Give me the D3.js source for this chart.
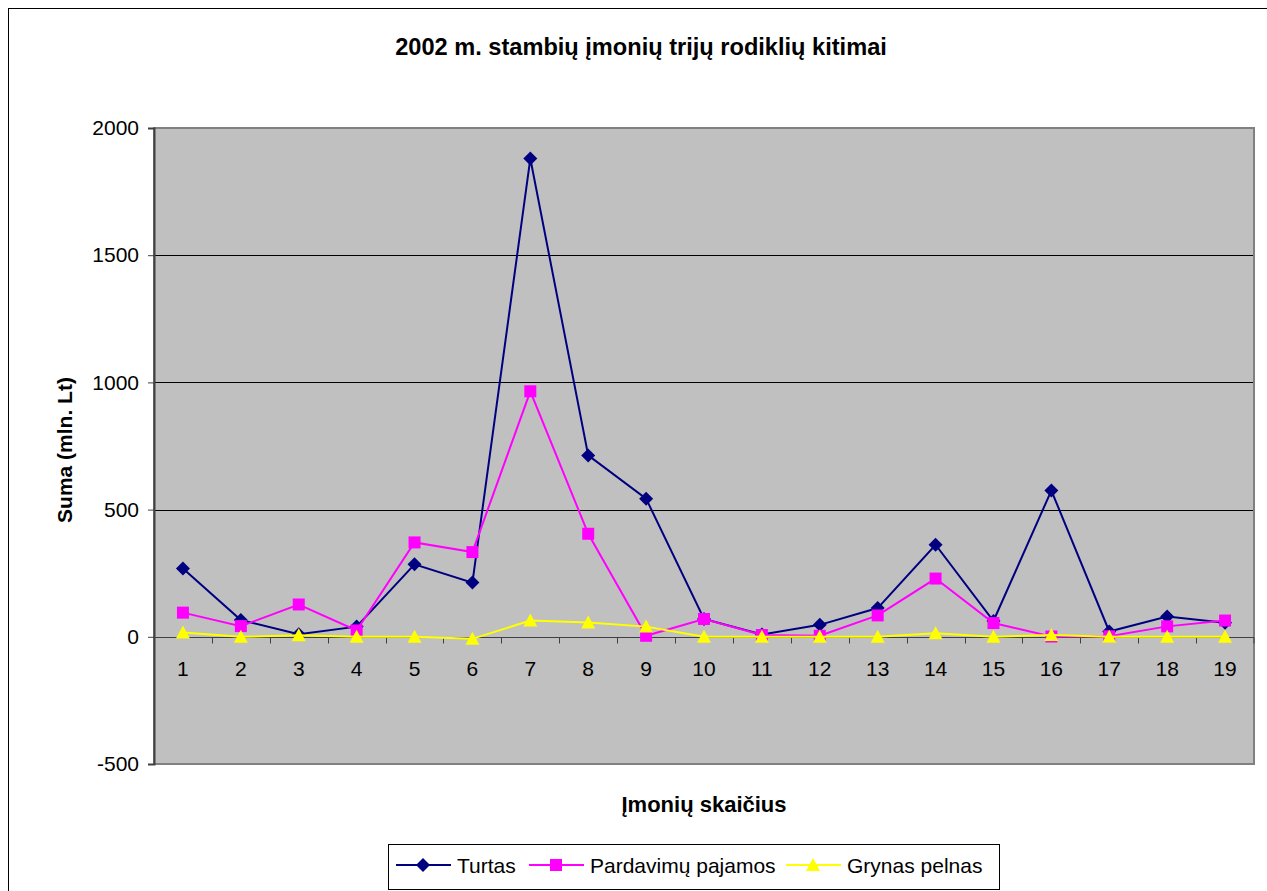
<!DOCTYPE html>
<html>
<head>
<meta charset="utf-8">
<script src="https://cdn.jsdelivr.net/npm/d3@7"></script>
<style>
  html, body { margin: 0; padding: 0; background: #fff; }
  svg { display: block; font-family: "Liberation Sans", Arial, sans-serif; }
</style>
</head>
<body>
<svg id="chart" width="1267" height="891"></svg>
<script>
// Company numbers along the x axis
const categories = d3.range(1, 20).map(String);

// Values in millions of litas, one per company
const turtas   = [268, 66, 10, 40, 285, 213, 1880, 713, 543, 70, 9, 47, 113, 362, 62, 575, 21, 80, 55];
const pajamos  = [95, 42, 127, 25, 371, 333, 965, 405, 4, 70, 7, 4, 84, 229, 54, 1, 2, 41, 64];
const pelnas   = [17, 0, 6, 0, 0, -8, 64, 56, 40, 0, 0, 0, 0, 14, 0, 7, 0, 0, 0];

const yTicks = [-500, 0, 500, 1000, 1500, 2000];

const seriesNames = ["Turtas", "Pardavimų pajamos", "Grynas pelnas"];
const seriesColors = ["#000080", "#FF00FF", "#FFFF00"];
const seriesMarkers = ["diamond", "square", "triangle"];

const series = [turtas, pajamos, pelnas].map((values, i) => ({
  name: seriesNames[i], color: seriesColors[i], marker: seriesMarkers[i], values
}));

const svg = d3.select("#chart");
const FONT = "Liberation Sans, Arial, sans-serif";

// Outer chart frame
svg.append("rect")
  .attr("x", 8.5).attr("y", 8.5)
  .attr("width", 1300).attr("height", 900)
  .attr("fill", "#fff").attr("stroke", "#000").attr("stroke-width", 1);

const plot = { left: 154, top: 128, right: 1254, bottom: 764 };

const x = d3.scaleBand().domain(categories).range([plot.left, plot.right]).padding(0);
const y = d3.scaleLinear().domain([-500, 2000]).range([plot.bottom, plot.top]);

// Plot background
svg.append("rect")
  .attr("x", plot.left).attr("y", plot.top)
  .attr("width", plot.right - plot.left).attr("height", plot.bottom - plot.top)
  .attr("fill", "#C0C0C0");

// Horizontal gridlines
svg.append("g")
  .selectAll("line")
  .data(yTicks.filter(t => t !== -500 && t !== 2000))
  .join("line")
  .attr("x1", plot.left).attr("x2", plot.right)
  .attr("y1", d => Math.round(y(d)) + 0.5).attr("y2", d => Math.round(y(d)) + 0.5)
  .attr("stroke", "#000").attr("stroke-width", 1);

// Plot border
svg.append("rect")
  .attr("x", plot.left).attr("y", plot.top)
  .attr("width", plot.right - plot.left).attr("height", plot.bottom - plot.top)
  .attr("fill", "none").attr("stroke", "#808080").attr("stroke-width", 2);

// Y axis
const yAxis = d3.axisLeft(y).tickValues(yTicks).tickSize(6).tickPadding(9).tickFormat(d => String(d));
const gy = svg.append("g").attr("transform", `translate(${plot.left},0)`).call(yAxis);
gy.select(".domain").attr("stroke", "#404040").attr("stroke-width", 2);
gy.selectAll(".tick line").attr("stroke", "#404040");
gy.selectAll(".tick text")
  .attr("font-size", 21).attr("fill", "#000")
  .attr("font-family", FONT);

// X axis through zero: tick marks between categories, labels centered
const y0 = Math.round(y(0)) + 0.5;
const gx = svg.append("g");
gx.append("line")
  .attr("x1", plot.left).attr("x2", plot.right)
  .attr("y1", y0).attr("y2", y0)
  .attr("stroke", "#404040").attr("stroke-width", 1);
gx.selectAll("line.tk")
  .data(categories.slice(1).concat(["end"]))
  .join("line")
  .attr("class", "tk")
  .attr("x1", d => d === "end" ? plot.right : Math.round(x(d)) + 0.5)
  .attr("x2", d => d === "end" ? plot.right : Math.round(x(d)) + 0.5)
  .attr("y1", y0).attr("y2", y0 + 6)
  .attr("stroke", "#404040").attr("stroke-width", 1);
gx.selectAll("text")
  .data(categories)
  .join("text")
  .attr("x", d => x(d) + x.bandwidth() / 2)
  .attr("y", y0 + 38)
  .attr("text-anchor", "middle")
  .attr("font-size", 21).attr("fill", "#000")
  .text(d => d);

// Series lines and markers
const cx = (i) => x(categories[i]) + x.bandwidth() / 2;
const line = d3.line().x((d, i) => cx(i)).y(d => y(d));

function markerPath(type) {
  if (type === "diamond") return "M0,-7L7,0L0,7L-7,0Z";
  if (type === "square") return "M-6,-6L6,-6L6,6L-6,6Z";
  return "M0,-7L7,6L-7,6Z";
}

series.forEach(s => {
  const g = svg.append("g");
  g.append("path")
    .attr("d", line(s.values))
    .attr("fill", "none")
    .attr("stroke", s.color)
    .attr("stroke-width", 2);
  g.selectAll("path.mk")
    .data(s.values)
    .join("path")
    .attr("class", "mk")
    .attr("transform", (d, i) => `translate(${cx(i)},${y(d)})`)
    .attr("d", markerPath(s.marker))
    .attr("fill", s.color);
});

// Titles
svg.append("text")
  .attr("x", 641).attr("y", 55)
  .attr("text-anchor", "middle")
  .attr("font-size", 23.6).attr("font-weight", "bold")
  .text("2002 m. stambių įmonių trijų rodiklių kitimai");

svg.append("text")
  .attr("x", 704).attr("y", 812)
  .attr("text-anchor", "middle")
  .attr("font-size", 22).attr("font-weight", "bold")
  .text("Įmonių skaičius");

svg.append("text")
  .attr("transform", "translate(72,450) rotate(-90)")
  .attr("text-anchor", "middle")
  .attr("font-size", 21).attr("font-weight", "bold")
  .text("Suma (mln. Lt)");

// Legend
const legend = svg.append("g");
legend.append("rect")
  .attr("x", 388.5).attr("y", 844.5)
  .attr("width", 611).attr("height", 45)
  .attr("fill", "#fff").attr("stroke", "#000").attr("stroke-width", 1);

const legendX = [396, 529, 786];
const legendY = 865;
series.forEach((s, i) => {
  const lx = legendX[i];
  legend.append("line")
    .attr("x1", lx).attr("x2", lx + 55)
    .attr("y1", legendY).attr("y2", legendY)
    .attr("stroke", s.color).attr("stroke-width", 2);
  legend.append("path")
    .attr("transform", `translate(${lx + 27},${legendY})`)
    .attr("d", markerPath(s.marker))
    .attr("fill", s.color);
  legend.append("text")
    .attr("x", lx + 61).attr("y", legendY + 7.5)
    .attr("font-size", 21).attr("fill", "#000")
    .text(s.name);
});
</script>
</body>
</html>
